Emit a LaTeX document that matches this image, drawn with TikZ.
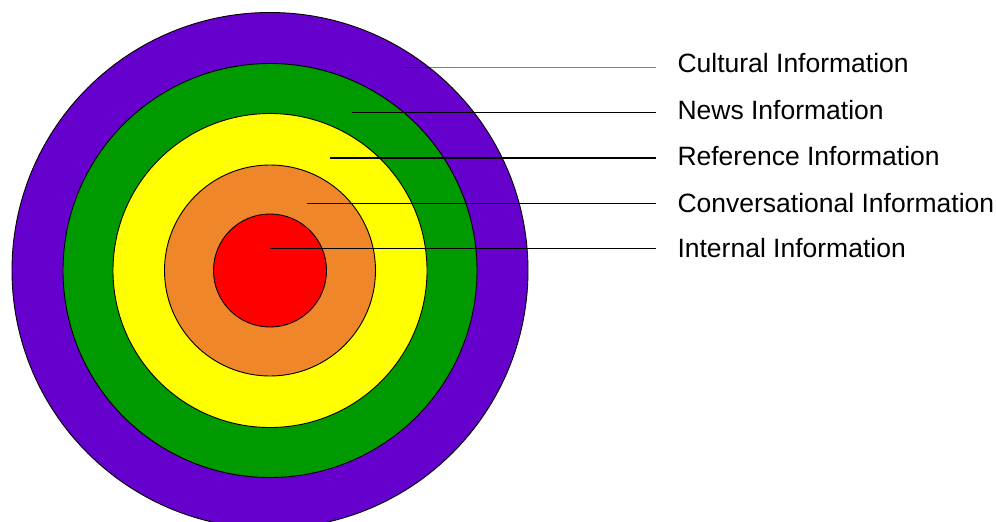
\documentclass[tikz,border=0pt]{standalone}
\usepackage{fontspec}
\setmainfont{Liberation Sans}

\definecolor{ringpurple}{RGB}{102,0,204}
\definecolor{ringgreen}{RGB}{0,153,0}
\definecolor{ringyellow}{RGB}{255,255,0}
\definecolor{ringorange}{RGB}{240,134,42}
\definecolor{ringred}{RGB}{255,0,0}

\begin{document}
\begin{tikzpicture}[x=1pt, y=-1pt, line width=1pt,
  ring/.style={draw=black, line width=0.9pt},
  lbl/.style={anchor=base west, inner sep=0pt, font=\fontsize{26.5}{30}\selectfont},
  leader/.style={line width=1.1pt}]

  \useasboundingbox (0,0) rectangle (997,522);
  \clip (0,0) rectangle (997,522);

  % radii of the rings
  \def\rone{258}
  \def\rtwo{207}
  \def\rthree{157}
  \def\rfour{105.5}
  \def\rfive{56.5}

  % centre of the rings
  \coordinate (O) at (270,270.5);

  % Rings, outermost first
  \filldraw[ring, fill=ringpurple] (O) circle (\rone);
  \filldraw[ring, fill=ringgreen]  (O) circle (\rtwo);
  \filldraw[ring, fill=ringyellow] (O) circle (\rthree);
  \filldraw[ring, fill=ringorange] (O) circle (\rfour);
  \filldraw[ring, fill=ringred]    (O) circle (\rfive);

  % start points of the leaders (inside each ring)
  \coordinate (s1) at (406,67.7);
  \coordinate (s2) at (352,112.7);
  \coordinate (s3) at (330,158);
  \coordinate (s4) at (307,203.3);
  \coordinate (s5) at (270,248.3);

  % end points of the leaders
  \coordinate (e1) at (656,67.7);
  \coordinate (e2) at (656,112.7);
  \coordinate (e3) at (656,158);
  \coordinate (e4) at (656,203.3);
  \coordinate (e5) at (656,248.3);

  % Labels
  \node[lbl] (cultural) at (677,72)    {Cultural Information};
  \node[lbl] (news)     at (677,119)   {News Information};
  \node[lbl] (ref)      at (677,165.7) {Reference Information};
  \node[lbl] (conv)     at (677,212.3) {Conversational Information};
  \node[lbl] (internal) at (677,257.3) {Internal Information};

  % Leaders (the outer one is half transparent)
  \draw[leader, draw opacity=0.5] (s1) -- (e1);
  \draw[leader] (s2) -- (e2);
  \draw[leader] (s3) -- (e3);
  \draw[leader] (s4) -- (e4);
  \draw[leader] (s5) -- (e5);

\end{tikzpicture}
\end{document}
